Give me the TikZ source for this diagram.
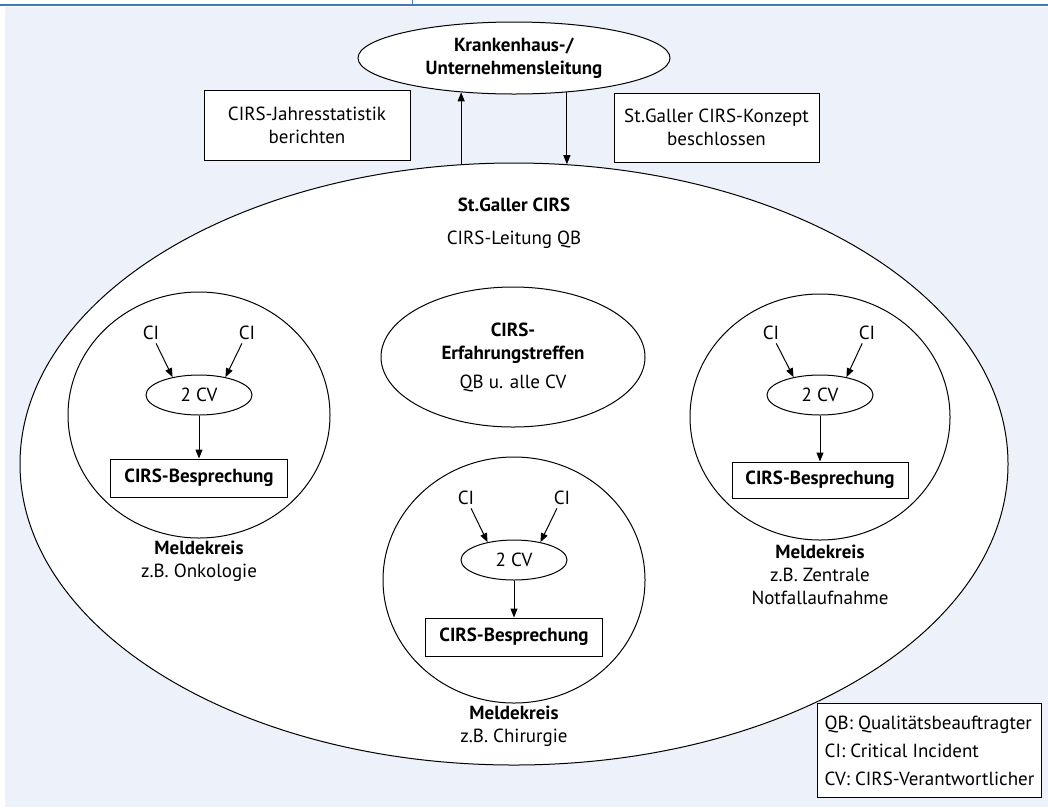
\documentclass[tikz,border=0pt]{standalone}
\usepackage{fontspec}
\setmainfont{PT Sans}
\usetikzlibrary{shapes.geometric,arrows.meta,positioning}

\definecolor{hgblau}{HTML}{EDF2FA}
\definecolor{balkenblau}{HTML}{3C7BBF}

\tikzset{
  pfeil/.style={-{Triangle[length=9pt,width=7pt]}, line width=1pt},
  oval/.style={ellipse, draw, fill=white, line width=1pt, inner sep=0pt, align=center},
  kasten/.style={rectangle, draw, fill=white, line width=1pt, inner sep=0pt, align=center},
  schrift/.style={font=\fontsize{19}{23}\selectfont},
}

\begin{document}
\begin{tikzpicture}[x=1pt, y=-1pt, every node/.style={schrift}]

\useasboundingbox (0,0) rectangle (1048,807);
\fill[hgblau] (5,7) rectangle (1048,807);
\draw[balkenblau, line width=2pt] (0,5) -- (1048,5);
\draw[balkenblau, line width=1pt] (412,0) -- (412,5);

% Leitung oben
\node[oval, minimum width=312, minimum height=72] (leitung) at (514,58) {\textbf{Krankenhaus-/}\\\textbf{Unternehmensleitung}};
\node[kasten, minimum width=206, minimum height=70] (statistik) at (307,125) {CIRS-Jahresstatistik\\berichten};
\node[kasten, minimum width=205, minimum height=69] (konzept) at (716.5,127.5) {St.Galler CIRS-Konzept\\beschlossen};

% St.Galler CIRS
\node[oval, minimum width=988, minimum height=602] (cirs) at (514,464) {};
\node (stgallen) at (514,205) {\textbf{St.Galler CIRS}};
\node (cirsqb) at (514,240) {CIRS-Leitung QB};

\draw[pfeil] (cirs.100) -- (cirs.100 |- leitung.213);
\draw[pfeil] (leitung.327) -- (leitung.327 |- cirs.80);

\node[oval, minimum width=264, minimum height=140] (treffen) at (513,357) {\textbf{CIRS-}\\\textbf{Erfahrungstreffen}\\[6pt]QB u. alle CV};

% Meldekreis Onkologie
\node[oval, minimum width=262, minimum height=246] (kreisA) at (199,415) {};
\node[oval, minimum width=106, minimum height=40] (cvA) at (199,395) {2 CV};
\node (ciA1) at (151,333) {CI};
\node (ciA2) at (247,333) {CI};
\node[kasten, minimum width=177, minimum height=38] (bespA) at (199,478) {\textbf{CIRS-Besprechung}};
\node[align=center] (nameA) at (199,561) {\textbf{Meldekreis}\\z.B. Onkologie};
\draw[pfeil] (ciA1) -- (cvA.146);
\draw[pfeil] (ciA2) -- (cvA.34);
\draw[pfeil] (cvA) -- (bespA);

% Meldekreis Chirurgie
\node[oval, minimum width=262, minimum height=246] (kreisB) at (514,580) {};
\node[oval, minimum width=106, minimum height=40] (cvB) at (514,560) {2 CV};
\node (ciB1) at (466,498) {CI};
\node (ciB2) at (562,498) {CI};
\node[kasten, minimum width=177, minimum height=38] (bespB) at (514,637) {\textbf{CIRS-Besprechung}};
\node[align=center] (nameB) at (514,726) {\textbf{Meldekreis}\\z.B. Chirurgie};
\draw[pfeil] (ciB1) -- (cvB.146);
\draw[pfeil] (ciB2) -- (cvB.34);
\draw[pfeil] (cvB) -- (bespB);

% Meldekreis Notfall
\node[oval, minimum width=260, minimum height=246] (kreisC) at (820,417) {};
\node[oval, minimum width=106, minimum height=40] (cvC) at (820,395) {2 CV};
\node (ciC1) at (771,333) {CI};
\node (ciC2) at (867,333) {CI};
\node[kasten, minimum width=176, minimum height=36] (bespC) at (820,480) {\textbf{CIRS-Besprechung}};
\node[align=center] (nameC) at (820,575) {\textbf{Meldekreis}\\z.B. Zentrale\\Notfallaufnahme};
\draw[pfeil] (ciC1) -- (cvC.146);
\draw[pfeil] (ciC2) -- (cvC.34);
\draw[pfeil] (cvC) -- (bespC);

% Legende
\node[kasten, anchor=north west, align=left, inner xsep=4, minimum width=224, minimum height=94,
      font=\fontsize{19}{28}\selectfont] (legende) at (817,703)
  {QB: Qualitätsbeauftragter\\CI: Critical Incident\\CV: CIRS-Verantwortlicher};

\end{tikzpicture}
\end{document}
